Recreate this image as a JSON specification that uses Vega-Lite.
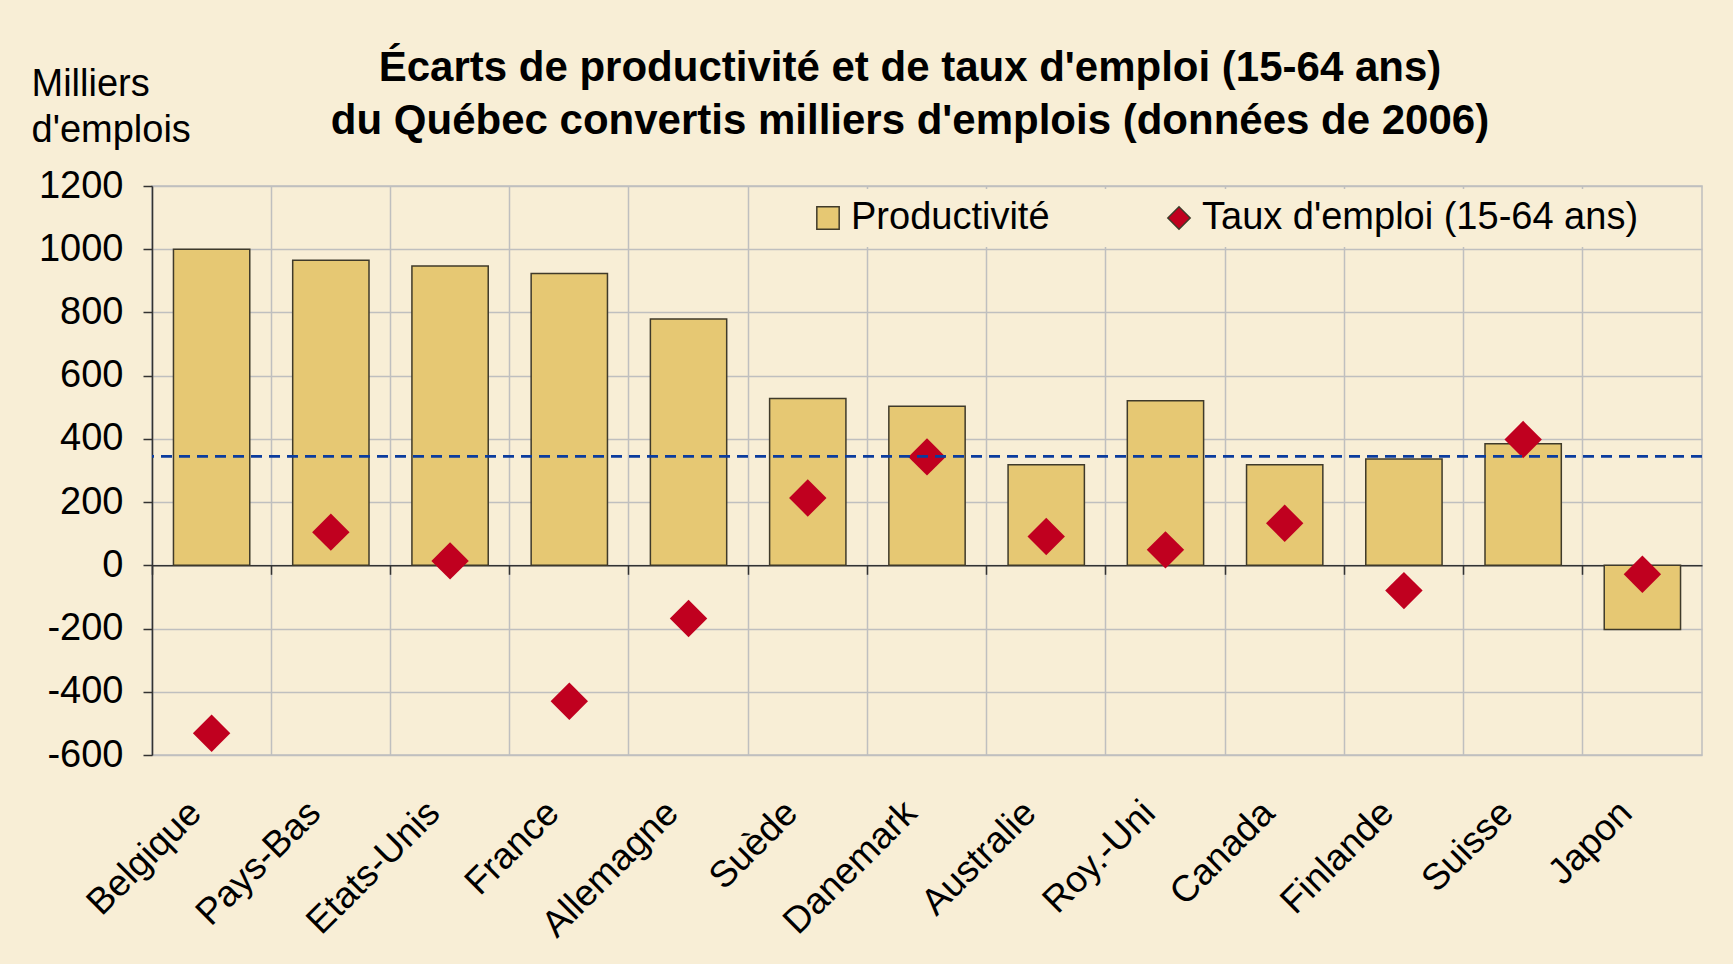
{
  "$schema": "https://vega.github.io/schema/vega-lite/v6.json",
  "autosize": "none",
  "width": 1550,
  "height": 569,
  "padding": {"left": 152, "top": 186, "right": 31, "bottom": 209},
  "background": "#F8EED6",
  "config": {
    "font": "Liberation Sans",
    "view": {"stroke": "#BFBFBF", "strokeWidth": 1.5},
    "axis": {"labelColor": "#000000", "titleColor": "#000000", "labelFont": "Liberation Sans", "titleFont": "Liberation Sans"}
  },
  "title": {
    "text": ["Écarts de productivité et de taux d'emploi (15-64 ans)", "du Québec convertis milliers d'emplois (données de 2006)"],
    "font": "Liberation Sans",
    "fontSize": 42,
    "fontWeight": "bold",
    "color": "#000000",
    "lineHeight": 53,
    "anchor": "middle",
    "frame": "group",
    "dx": -17,
    "dy": 118,
    "offset": 40
  },
  "datasets": {
    "ecarts": [
      {"pays": "Belgique", "serie": "Productivité", "valeur": 1000},
      {"pays": "Pays-Bas", "serie": "Productivité", "valeur": 965},
      {"pays": "Etats-Unis", "serie": "Productivité", "valeur": 947},
      {"pays": "France", "serie": "Productivité", "valeur": 923},
      {"pays": "Allemagne", "serie": "Productivité", "valeur": 779},
      {"pays": "Suède", "serie": "Productivité", "valeur": 528},
      {"pays": "Danemark", "serie": "Productivité", "valeur": 503},
      {"pays": "Australie", "serie": "Productivité", "valeur": 318},
      {"pays": "Roy.-Uni", "serie": "Productivité", "valeur": 521},
      {"pays": "Canada", "serie": "Productivité", "valeur": 318},
      {"pays": "Finlande", "serie": "Productivité", "valeur": 336},
      {"pays": "Suisse", "serie": "Productivité", "valeur": 385},
      {"pays": "Japon", "serie": "Productivité", "valeur": -203},
      {"pays": "Belgique", "serie": "Taux d'emploi (15-64 ans)", "valeur": -531},
      {"pays": "Pays-Bas", "serie": "Taux d'emploi (15-64 ans)", "valeur": 105},
      {"pays": "Etats-Unis", "serie": "Taux d'emploi (15-64 ans)", "valeur": 14},
      {"pays": "France", "serie": "Taux d'emploi (15-64 ans)", "valeur": -430},
      {"pays": "Allemagne", "serie": "Taux d'emploi (15-64 ans)", "valeur": -168},
      {"pays": "Suède", "serie": "Taux d'emploi (15-64 ans)", "valeur": 213},
      {"pays": "Danemark", "serie": "Taux d'emploi (15-64 ans)", "valeur": 343},
      {"pays": "Australie", "serie": "Taux d'emploi (15-64 ans)", "valeur": 91},
      {"pays": "Roy.-Uni", "serie": "Taux d'emploi (15-64 ans)", "valeur": 49},
      {"pays": "Canada", "serie": "Taux d'emploi (15-64 ans)", "valeur": 133},
      {"pays": "Finlande", "serie": "Taux d'emploi (15-64 ans)", "valeur": -80},
      {"pays": "Suisse", "serie": "Taux d'emploi (15-64 ans)", "valeur": 398},
      {"pays": "Japon", "serie": "Taux d'emploi (15-64 ans)", "valeur": -28}
    ],
    "reference": [{"valeur": 345}]
  },
  "layer": [
    {
      "data": {"name": "ecarts"},
      "transform": [{"filter": "datum.serie === 'Productivité'"}],
      "mark": {"type": "bar", "width": {"band": 0.64}, "stroke": "#3F3A2A", "strokeWidth": 1.5},
      "encoding": {
        "x": {
          "field": "pays", "type": "nominal",
          "sort": ["Belgique", "Pays-Bas", "Etats-Unis", "France", "Allemagne", "Suède", "Danemark", "Australie", "Roy.-Uni", "Canada", "Finlande", "Suisse", "Japon"],
          "scale": {"paddingInner": 0, "paddingOuter": 0},
          "axis": {"orient": "bottom", "title": null, "domain": false, "ticks": false, "grid": false, "labelAngle": -45, "labelAlign": "right", "labelBaseline": "middle", "labelFontSize": 37, "labelPadding": 52, "labelOffset": -16, "labelLimit": 0}
        },
        "y": {
          "field": "valeur", "type": "quantitative",
          "scale": {"domain": [-600, 1200], "nice": false, "zero": false},
          "axis": {
            "values": [-600, -400, -200, 0, 200, 400, 600, 800, 1000, 1200],
            "labelExpr": "'' + datum.value",
            "title": ["Milliers", "d'emplois"],
            "titleAngle": 0, "titleAlign": "left", "titleBaseline": "alphabetic",
            "titleX": -121, "titleY": -91, "titleFontSize": 38, "titleFontWeight": "normal", "titleLineHeight": 46,
            "labelFontSize": 38, "labelPadding": 20,
            "domainColor": "#333333", "domainWidth": 1.5,
            "tickColor": "#333333", "tickWidth": 1.5, "tickSize": 9,
            "gridColor": "#BFBFBF", "gridWidth": 1.5
          }
        },
        "color": {
          "field": "serie", "type": "nominal",
          "scale": {"domain": ["Productivité", "Taux d'emploi (15-64 ans)"], "range": ["#E6C873", "#C0001F"]},
          "legend": {
            "title": null, "orient": "none", "legendX": 647, "legendY": 3, "direction": "horizontal",
            "labelFontSize": 38, "labelColor": "#000000", "labelOffset": 4, "labelLimit": 0, "symbolSize": 500,
            "columnPadding": 110, "fillColor": "#F8EED6", "padding": 10,
            "encode": {
              "symbols": {
                "update": {
                  "stroke": {"signal": "datum.value === 'Productivité' ? '#3F3A2A' : '#C0001F'"},
                  "strokeWidth": {"value": 1.5}
                }
              }
            }
          }
        }
      }
    },
    {
      "data": {"name": "ecarts"},
      "transform": [{"filter": "datum.serie !== 'Productivité'"}],
      "mark": {"type": "point", "filled": true, "opacity": 1, "size": 1400},
      "encoding": {
        "x": {
          "field": "pays", "type": "nominal",
          "sort": ["Belgique", "Pays-Bas", "Etats-Unis", "France", "Allemagne", "Suède", "Danemark", "Australie", "Roy.-Uni", "Canada", "Finlande", "Suisse", "Japon"],
          "axis": {"orient": "top", "title": null, "labels": false, "bandPosition": 0, "grid": true, "gridColor": "#BFBFBF", "gridWidth": 1.5, "domain": true, "domainColor": "#333333", "domainWidth": 1.5, "ticks": true, "tickColor": "#333333", "tickWidth": 1.5, "tickSize": -9, "offset": -379.3}
        },
        "y": {"field": "valeur", "type": "quantitative"},
        "color": {"field": "serie", "type": "nominal"},
        "shape": {
          "field": "serie", "type": "nominal",
          "scale": {"domain": ["Productivité", "Taux d'emploi (15-64 ans)"], "range": ["square", "diamond"]}
        }
      }
    },
    {
      "data": {"name": "reference"},
      "mark": {"type": "rule", "color": "#0B3C9E", "strokeWidth": 2.7, "strokeDash": [11, 7]},
      "encoding": {"y": {"field": "valeur", "type": "quantitative"}}
    }
  ],
  "resolve": {"axis": {"x": "independent"}}
}
